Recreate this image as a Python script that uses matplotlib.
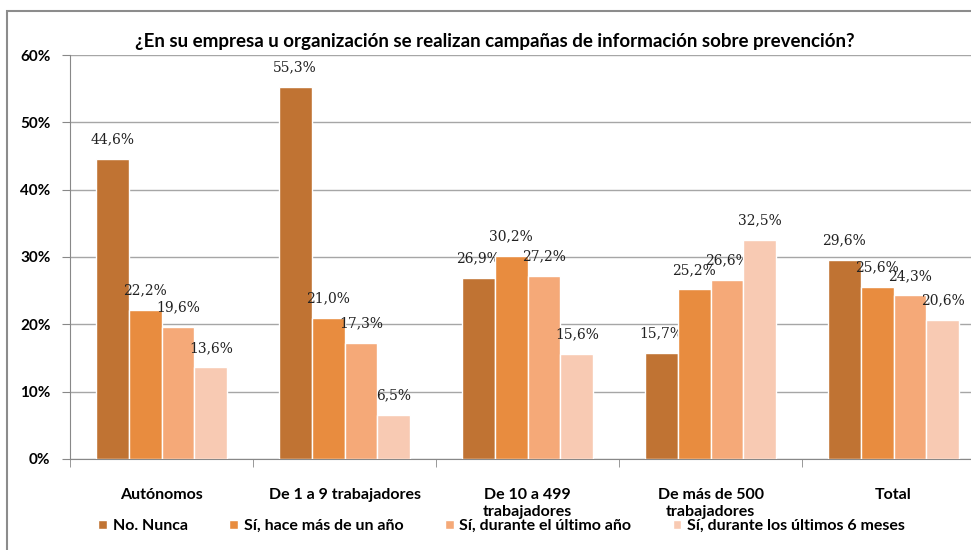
import matplotlib.pyplot as plt
import numpy as np
from matplotlib.patches import Rectangle

categorias = ["Autónomos", "De 1 a 9 trabajadores", "De 10 a 499\ntrabajadores",
              "De más de 500\ntrabajadores", "Total"]
series = ["No. Nunca", "Sí, hace más de un año", "Sí, durante el último año",
          "Sí, durante los últimos 6 meses"]
no_nunca = [44.6, 55.3, 26.9, 15.7, 29.6]
hace_mas_anio = [22.2, 21.0, 30.2, 25.2, 25.6]
ultimo_anio = [19.6, 17.3, 27.2, 26.6, 24.3]
ultimos_6_meses = [13.6, 6.5, 15.6, 32.5, 20.6]
valores = [no_nunca, hace_mas_anio, ultimo_anio, ultimos_6_meses]
colores = ["#C07333", "#E88C3F", "#F5A978", "#F8CAB3"]

fig = plt.figure(figsize=(9.71, 5.5), dpi=100)
ax = fig.add_axes([70/971, 91/550, 915/971, 404/550])

x = np.arange(len(categorias))
w = 0.18
offs = [-1.5*w, -0.5*w, 0.5*w, 1.5*w]
for i in range(4):
    bars = ax.bar(x + offs[i], valores[i], w, color=colores[i], edgecolor="white",
                  linewidth=1.0, label=series[i], zorder=3)
    for b, v in zip(bars, valores[i]):
        ax.annotate(("%.1f%%" % v).replace(".", ","),
                    (b.get_x() + b.get_width()/2, v), xytext=(0, 9),
                    textcoords="offset points", ha="center", va="bottom",
                    fontsize=10, family="DejaVu Serif", color="#222222")

ax.set_xlim(-0.5, 4.5)
ax.set_ylim(0, 60)
ax.set_yticks(range(0, 61, 10))
ax.set_yticklabels(["%d%%" % t for t in range(0, 61, 10)], fontsize=11,
                   fontweight="bold", family="Lato")
ax.set_xticks(x)
ax.set_xticklabels(categorias, fontsize=11.5, fontweight="bold", family="Lato",
                   va="top", linespacing=1.25)
ax.tick_params(axis="x", length=0, pad=21)
ax.set_xticks(np.arange(-0.5, 5, 1), minor=True)
ax.tick_params(axis="x", which="minor", length=6, color="#888888")
ax.tick_params(axis="y", length=6, color="#888888", pad=8)
ax.grid(axis="y", color="#A6A6A6", linewidth=1.0, zorder=0)
for s in ["top", "right"]:
    ax.spines[s].set_visible(False)
ax.spines["left"].set_color("#888888")
ax.spines["bottom"].set_color("#888888")

fig.text(495/971, 1 - 42/550, "¿En su empresa u organización se realizan campañas de información sobre prevención?",
         ha="center", va="center", fontsize=13.5, fontweight="bold", family="Lato")

fig.legend(loc="center left", bbox_to_anchor=(84/971, 1 - 526/550), ncol=4,
           frameon=False, handlelength=0.55, handleheight=0.55, handletextpad=0.35,
           columnspacing=2.6, prop={"family": "Lato", "weight": "bold", "size": 11.5})

fig.patches.append(Rectangle((7/971, -0.1), 1.1, 1 - 11/550 + 0.1, transform=fig.transFigure,
                             fill=False, edgecolor="#8C8C8C", linewidth=1.5))

fig.savefig("out.png", dpi=100)
